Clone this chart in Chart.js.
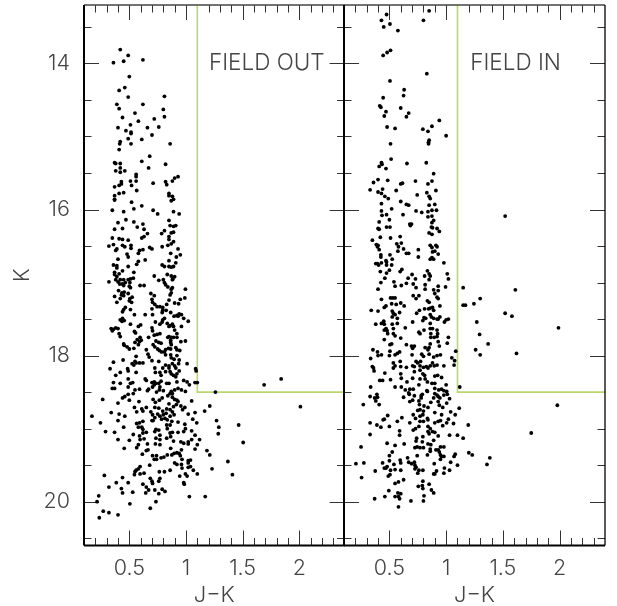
<!DOCTYPE html>
<html><head><meta charset="utf-8">
<style>html,body{margin:0;padding:0;background:#fff;overflow:hidden}
canvas{position:absolute;top:0}</style>
<script src="https://cdn.jsdelivr.net/npm/chart.js@4/dist/chart.umd.min.js"></script>
</head><body>
<div style="position:absolute;left:0;top:0;width:345px;height:606px"><canvas id="a"></canvas></div>
<div style="position:absolute;left:340px;top:0;width:277px;height:606px"><canvas id="b"></canvas></div>
<script>
const xMajor=[0.5,1,1.5,2];
const xMinor=[0.2,0.3,0.4,0.6,0.7,0.8,0.9,1.1,1.2,1.3,1.4,1.6,1.7,1.8,1.9,2.1,2.2,2.3];
const yMajor=[14,16,18,20];
const yMinor=[13.5,14.5,15,15.5,16.5,17,17.5,18.5,19,19.5,20.5];
const cutLine=[[1.1,13.2],[1.1,18.5],[2.4,18.5]];
const outPts=[[1.69,18.40],[1.84,18.32],[2.01,18.70],[.42,13.81],[.49,13.89],[.45,13.97],[.36,13.99],[.62,13.95],[.50,14.18],[.46,14.33],[.41,14.37],[.49,14.46],[.81,14.45],[.39,14.56],[.41,14.62],[.62,14.56],[.80,14.63],[.55,14.68],[.81,14.73],[.44,14.74],[.72,14.76],[.58,14.79],[.51,14.84],[.40,14.88],[.66,14.88],[.76,14.87],[.47,14.92],[.515,14.94],[.515,14.96],[.70,14.98],[.49,15.03],[.61,15.04],[.42,15.07],[.415,15.10],[.515,15.10],[.86,15.10],[.41,15.18],[.68,15.27],[.61,15.34],[.37,15.36],[.38,15.37],[.42,15.37],[.82,15.38],[.42,15.43],[.67,15.43],[.38,15.47],[.42,15.49],[.46,15.47],[.56,15.52],[.56,15.55],[.93,15.55],[.90,15.57],[.88,15.61],[.51,15.61],[.56,15.61],[.43,15.62],[.43,15.65],[.41,15.67],[.37,15.69],[.52,15.67],[.71,15.64],[.82,15.62],[.83,15.66],[.565,15.74],[.45,15.77],[.41,15.78],[.37,15.81],[.37,15.86],[.85,15.78],[.85,15.81],[.88,15.82],[.89,15.86],
[.37,15.87],[.52,15.90],[.61,15.95],[.54,15.99],[.87,15.88],[.35,16.01],[.45,16.03],[.71,16.01],[.75,16.06],[.89,16.03],[.94,16.06],[.85,16.15],[.47,16.14],[.54,16.17],[.40,16.18],[.62,16.20],[.57,16.24],[.44,16.26],[.37,16.27],[.63,16.27],[.86,16.22],[.89,16.23],[.91,16.22],[.81,16.29],[.87,16.32],[.89,16.31],[.785,16.33],[.66,16.33],[.63,16.37],[.35,16.39],[.41,16.40],[.44,16.41],[.49,16.42],[.61,16.39],[.85,16.37],[.89,16.44],[.87,16.47],[.85,16.41],[.32,16.50],[.36,16.48],[.44,16.49],[.515,16.49],[.515,16.53],[.46,16.51],[.39,16.54],[.38,16.56],[.79,16.51],[.84,16.49],[.68,16.52],[.70,16.54],[.93,16.54],[.62,16.55],[.59,16.56],[.58,16.60],[.48,16.61],[.865,16.60],[.95,16.62],[.915,16.65],[.49,16.65],[.40,16.68],[.64,16.69],[.85,16.70],[.58,16.71],[.565,16.75],[.91,16.73],[.36,16.76],[.39,16.77],[.39,16.80],[.49,16.78],[.79,16.76],[.81,16.78],[.85,16.78],[.87,16.79],[.89,16.78],[.37,16.86],[.41,16.88],[.44,16.84],[.54,16.86],[.37,16.89],[.39,16.92],[.72,16.91],[.835,16.89],[.87,16.91],[.90,16.92],[.885,16.95],[.51,16.95],[.535,16.94],[.49,16.96],[.32,16.99],[.38,16.96],[.42,16.96],[.45,16.96],[.40,16.99],[.76,16.97],[.80,16.96],[.81,17.00],[.88,16.96],[.415,17.02],[.44,17.02],[.465,17.00],[.505,17.00],[.45,17.04],[.50,17.05],[.51,17.07],[.595,17.04],[.63,17.04],[.82,17.03],[.84,17.06],[.88,17.07],[.87,17.09],[.995,17.09],[.405,17.11],[.435,17.14],[.455,17.13],[.49,17.15],[.43,17.17],[.45,17.18],[.37,17.19],[.42,17.22],[.505,17.22],[.525,17.20],[.69,17.15],[.72,17.18],[.87,17.14],[.86,17.17],[.99,17.21],[.95,17.23],[.70,17.23],[.705,17.27],[.50,17.25],[.39,17.27],[.52,17.27],[.85,17.24],[.90,17.28],[.935,17.29],[.725,17.30],[.745,17.33],[.77,17.33],[.83,17.30],[.795,17.34],[.70,17.36],[.465,17.34],[.45,17.37],[.44,17.40],[.51,17.37],[.795,17.38],[.825,17.38],[.79,17.41],[.545,17.44],[.64,17.44],[.705,17.44],[.865,17.41],[.895,17.46],[.92,17.45],[.94,17.43],[.96,17.44],[.98,17.49],[1.02,17.53],[.93,17.46],[.81,17.49],[.795,17.51],[.44,17.49],[.42,17.51],[.455,17.52],[.435,17.53],[.79,17.54],[.77,17.57],[.73,17.54],[.88,17.57],[.86,17.59],[.835,17.56],[.51,17.57],[.60,17.58],[.58,17.60],[.96,17.60],[.85,17.60],[.89,17.60],[.34,17.63],[.36,17.64],[.38,17.62],[.40,17.63],[.35,17.66],[.70,17.62],[.705,17.66],[.90,17.65],[.545,17.67],[.555,17.69],[.41,17.70],[.42,17.74],[.77,17.70],[.745,17.71],[.72,17.72],[.92,17.70],[.85,17.74],[.87,17.75],[.89,17.75],[.84,17.75],[.92,17.75],[.67,17.75],[.595,17.75],[.57,17.78],[.605,17.79],[.55,17.82],[.59,17.81],[.735,17.80],[.76,17.82],[.78,17.83],[.865,17.79],[.865,17.82],[.87,17.85],[.45,17.84],[.455,17.86],[.48,17.88],[.50,17.91],[.54,17.90],[.58,17.85],[.955,17.81],[.995,17.80],[.71,17.85],[.725,17.88],[.75,17.91],[.765,17.93],[.785,17.95],[.65,17.92],[.91,17.89],[.92,17.92],[.865,17.91],[.845,17.90],[.82,17.92],[.81,17.95],[.665,17.98],[.675,18.02],[.56,18.01],[.82,17.99],[.865,17.99],[.945,17.93],[.92,18.00],[.895,18.05],[.87,18.03],[.70,18.07],[.76,18.08],[.445,18.06],[.36,18.09],[.525,18.11],[.55,18.08],[.56,18.10],[.59,18.10],[.62,18.10],[.54,18.13],[1.01,18.11],[.94,18.06],[.935,18.11],[.88,18.11],[.90,18.14],[.85,18.14],[.82,18.13],[.725,18.17],[.795,18.17],[.33,18.18],[.485,18.18],[1.085,18.18],[.85,18.17],[.91,18.17],
[.38,18.27],[.42,18.23],[.49,18.21],[.56,18.23],[.73,18.23],[.77,18.23],[.78,18.27],[.82,18.22],[.86,18.22],[.89,18.27],[.92,18.25],[.94,18.21],[.91,18.29],[1.09,18.21],[.87,18.25],[.36,18.37],[.42,18.38],[.49,18.32],[.51,18.38],[.53,18.37],[.64,18.32],[.65,18.34],[.70,18.37],[.72,18.36],[.735,18.38],[.76,18.38],[.78,18.35],[.83,18.38],[.85,18.38],[.92,18.36],[.98,18.34],[1.01,18.36],[1.03,18.40],[1.08,18.37],[1.10,18.37],[.35,18.45],[.37,18.45],[.49,18.43],[.55,18.47],[.59,18.46],[.66,18.48],[.67,18.46],[.705,18.43],[.72,18.40],[.77,18.43],[.765,18.47],[.74,18.50],[.80,18.48],[.96,18.47],[.93,18.45],[.90,18.47],[.995,18.49],[.87,18.49],[.86,18.52],[.88,18.52],[1.26,18.50],[.265,18.60],[.44,18.58],[.46,18.56],[.49,18.53],[.535,18.52],[.50,18.61],[.40,18.65],[.585,18.63],[.71,18.60],[.73,18.64],[.765,18.61],[.79,18.58],[.84,18.55],[.88,18.57],[.90,18.60],[.92,18.61],[.93,18.63],[.85,18.66],[1.05,18.62],[1.21,18.69],[.915,18.67],[.89,18.70],[.34,18.78],[.41,18.80],[.46,18.83],[.17,18.83],[.245,18.92],[.40,18.89],[.545,18.71],[.61,18.73],[.62,18.76],[.565,18.77],[.65,18.71],[.725,18.71],[.76,18.72],[.69,18.77],[.705,18.81],[.725,18.85],[.795,18.76],[.83,18.73],[.86,18.74],[.88,18.77],[.955,18.69],[.99,18.71],[.97,18.74],[1.165,18.76],[1.08,18.78],[1.02,18.80],[.895,18.81],[.86,18.83],[.825,18.79],[.80,18.81],[.77,18.83],[.75,18.80],[.785,18.87],[.815,18.86],[.835,18.88],[.875,18.90],[.86,18.95],[.83,18.95],[.93,18.91],[1.06,18.87],[1.095,18.92],[1.27,18.89],[.99,18.94],[.29,19.04],[.37,19.05],[.45,18.98],[.565,18.93],[.59,18.92],[.62,18.90],[.58,18.98],[.61,18.98],[.62,19.01],[.535,19.08],[.59,19.10],[.62,19.06],[.65,19.05],[.70,18.89],[.71,18.89],[.735,19.01],[.76,19.02],[.77,19.09],[.725,19.04],[.835,19.00],[.86,19.06],[.83,19.13],[.88,19.05],[.93,19.05],[.995,19.00],[.98,19.04],[1.05,19.03],[1.08,19.09],[1.29,18.98],[1.285,19.07],[1.465,18.95],[.40,19.15],[.50,19.16],[.455,19.27],[.565,19.26],[.595,19.15],[.63,19.14],[.66,19.21],[.735,19.13],[.77,19.15],[.73,19.21],[.77,19.22],[.865,19.11],[.89,19.17],[.955,19.18],[.98,19.20],[1.02,19.18],[1.05,19.15],[1.12,19.15],[1.02,19.21],[1.08,19.28],[1.10,19.22],[1.505,19.19],[.58,19.22],[.865,19.27],[.615,19.35],[.65,19.30],[.665,19.29],[.705,19.37],[.72,19.42],[.74,19.37],[.74,19.42],[.78,19.40],[.805,19.39],[.835,19.36],[.875,19.36],[.895,19.34],[.92,19.33],[.94,19.34],[.96,19.29],[.95,19.37],[.965,19.42],[1.02,19.44],[1.04,19.43],[1.185,19.30],[1.21,19.36],[1.37,19.45],[1.02,19.47],[.90,19.47],[.92,19.49],[.96,19.49],[.965,19.54],[1.02,19.53],[1.04,19.52],[.68,19.50],[.595,19.52],[.58,19.55],[.56,19.57],[.55,19.59],[.545,19.63],[.595,19.62],[.63,19.61],[.765,19.59],[.81,19.59],[.86,19.57],[1.065,19.57],[1.10,19.62],[1.23,19.55],[1.41,19.63],[.945,19.65],[.995,19.62],[1.01,19.65],[.28,19.64],[.44,19.67],[.685,19.68],[.77,19.68],[.76,19.72],[.70,19.72],[.705,19.75],[.62,19.76],[.49,19.74],[.385,19.74],[.32,19.80],[.43,19.82],[.44,19.88],[.53,19.87],[.65,19.80],[.67,19.84],[.645,19.88],[.725,19.84],[.79,19.83],[.815,19.86],[.76,19.89],[.98,19.74],[.985,19.76],[1.03,19.93],[1.17,19.93],[.23,19.92],[.215,20.00],[.505,20.03],[.735,20.00],[.685,20.09],[.27,20.13],[.32,20.15],[.40,20.18],[.235,20.22]];
const inPts=[[1.52,16.09],[1.61,17.10],[1.52,17.42],[1.58,17.46],[1.62,17.97],[1.99,17.62],[1.98,18.68],[1.75,19.06],[.475,13.33],[.85,13.28],[.43,13.41],[.80,13.41],[.505,13.46],[.45,13.50],[.575,13.55],[.51,13.82],[.48,13.85],[.445,13.89],[.83,14.14],[.505,14.24],[.63,14.36],[.625,14.44],[.445,14.47],[.415,14.58],[.425,14.60],[.60,14.61],[.47,14.66],[.67,14.68],[.455,14.72],[.65,14.73],[.94,14.78],[.875,14.86],[.48,14.87],[.55,14.89],[.795,14.90],[.84,14.93],[1.0,14.99],[.85,15.05],[.845,15.08],[.845,15.10],[.51,15.10],[.515,15.31],[.43,15.36],[.435,15.38],[.41,15.41],[.47,15.44],[.655,15.37],[.825,15.36],[.89,15.51],[.40,15.59],[.485,15.60],[.36,15.63],[.60,15.65],[.615,15.64],[.73,15.61],[.875,15.61],[.84,15.65],[.33,15.73],[.44,15.72],[.56,15.74],[.40,15.76],[.43,15.78],[.46,15.82],[.49,15.85],[.745,15.80],[.83,15.77],[.85,15.82],[.86,15.85],[.91,15.74],
[.43,15.92],[.60,15.89],[.65,15.93],[.67,15.94],[.85,15.94],[.90,15.93],[.52,15.99],[.43,16.02],[.435,16.08],[.475,16.07],[.735,16.02],[.785,16.04],[.84,16.03],[.875,16.01],[.915,16.01],[.62,16.07],[.84,16.10],[.875,16.09],[.89,16.15],[.50,16.14],[.41,16.17],[.875,16.18],[.40,16.26],[.41,16.27],[.475,16.24],[.505,16.24],[.68,16.20],[.695,16.20],[.685,16.22],[.87,16.24],[.88,16.25],[.92,16.26],[.94,16.30],[.85,16.32],[.875,16.34],[.42,16.38],[.35,16.42],[.51,16.39],[.595,16.37],[.385,16.48],[.40,16.49],[.395,16.51],[.41,16.55],[.565,16.47],[.605,16.46],[.58,16.51],[.625,16.54],[.575,16.57],[.755,16.55],[.86,16.49],[.875,16.52],[.91,16.49],[.92,16.51],[.88,16.58],[.90,16.57],[.65,16.60],[.67,16.60],[.505,16.62],[.525,16.68],[.425,16.62],[.425,16.65],[.47,16.70],[.475,16.72],[.755,16.65],[.93,16.61],[.875,16.66],[.86,16.68],[.89,16.68],[.38,16.74],[.395,16.74],[.405,16.76],[.43,16.73],[.475,16.76],[.52,16.76],[.98,16.73],[.42,16.85],[.50,16.83],[.61,16.82],[.595,16.85],[.475,16.87],[.835,16.84],[.85,16.88],[.81,16.91],[.86,16.91],[.70,16.89],[1.01,16.88],[.665,16.94],[.73,16.95],[.46,16.94],[1.02,16.95],[.85,16.96],[.425,17.00],[.54,16.99],[.55,17.05],[.605,17.04],[.65,17.01],[.71,17.02],[.735,17.07],[.815,17.03],[.815,17.09],[.995,17.06],[.93,17.05],[1.15,17.07],[.40,17.09],[.89,17.10],[.93,17.11],[.90,17.15],[.71,17.18],[.735,17.22],[.76,17.18],[.92,17.20],[.93,17.22],[.43,17.23],[.51,17.21],[.53,17.21],[.55,17.21],[.835,17.25],[.85,17.27],[1.30,17.22],[.52,17.29],[.56,17.30],[.60,17.28],[.63,17.32],[.47,17.32],[.455,17.34],[.34,17.38],[.40,17.39],[.525,17.39],[.945,17.32],[.86,17.35],[.88,17.34],[.845,17.36],[.81,17.36],[.89,17.38],[1.17,17.31],[1.15,17.31],[1.245,17.29],[.765,17.38],[.74,17.42],[.535,17.42],[.59,17.41],[.55,17.44],[.525,17.47],[.57,17.49],[.805,17.48],[.82,17.49],[.86,17.44],[.87,17.47],[.945,17.47],[.93,17.50],[1.02,17.50],[1.0,17.51],[.985,17.54],[.92,17.50],[.89,17.49],[1.27,17.54],[.45,17.53],[.43,17.56],[.38,17.57],[.455,17.57],[.525,17.57],[.57,17.56],[.705,17.54],[.795,17.52],[.86,17.56],[.64,17.62],[.47,17.63],[.455,17.65],[.48,17.66],[.485,17.70],[.535,17.63],[.535,17.70],[.76,17.68],[.77,17.70],[.805,17.65],[.86,17.63],[.88,17.63],[.92,17.65],[.925,17.70],[.865,17.70],[1.295,17.71],[.55,17.73],[.60,17.76],[.455,17.78],[.865,17.75],[.895,17.75],[.92,17.74],[1.02,17.75],[1.01,17.83],[.52,17.84],[.505,17.85],[.65,17.85],[.695,17.87],[.72,17.87],[.705,17.90],[.93,17.81],[.94,17.87],[1.37,17.84],[.86,17.84],[.85,17.89],[.815,17.89],[.84,17.92],[1.26,17.92],[.355,17.92],[.395,17.95],[.43,17.99],[.40,18.0],[.505,17.94],[.50,18.0],[.55,17.99],[.59,17.95],[.57,17.97],[.70,17.99],[.785,17.98],[.80,18.01],[1.085,17.94],[1.30,17.99],[.85,17.98],[.92,18.0],[.95,17.99],[.89,18.02],[.335,18.04],[1.05,18.03],[1.075,18.07],[1.07,18.13],[.735,18.08],[.75,18.10],[.775,18.08],[.535,18.10],[.595,18.08],[.55,18.14],[.35,18.15],[.60,18.15],[.65,18.16],[.705,18.14],[.72,18.15],[.77,18.14],[.80,18.16],[.825,18.15],[.86,18.14],[.88,18.10],[.895,18.14],[.92,18.13],[.98,18.14],[.535,18.17],[.36,18.17],[.84,18.17],
[.365,18.21],[.46,18.24],[.60,18.25],[.72,18.22],[.77,18.20],[.795,18.25],[.81,18.27],[.90,18.28],[.925,18.27],[.96,18.30],[.415,18.34],[.44,18.34],[.51,18.33],[.605,18.31],[.705,18.31],[.77,18.32],[.815,18.32],[.835,18.36],[.875,18.38],[.90,18.38],[.655,18.36],[.76,18.40],[1.0,18.40],[.335,18.43],[.55,18.43],[.605,18.43],[1.12,18.43],[.64,18.47],[.68,18.46],[.71,18.46],[.835,18.49],[.67,18.51],[.675,18.53],[.79,18.53],[.78,18.55],[.83,18.48],[.90,18.45],[.935,18.47],[.96,18.46],[.98,18.48],[1.005,18.49],[.90,18.52],[.92,18.54],[.93,18.56],[.98,18.54],[1.01,18.53],[1.03,18.59],[.39,18.53],[.33,18.56],[.395,18.57],[.37,18.58],[.38,18.62],[.625,18.57],[.72,18.55],[.705,18.61],[.68,18.63],[.78,18.58],[.945,18.58],[.89,18.58],[.93,18.63],[.41,18.67],[.27,18.67],[.76,18.62],[.765,18.67],[.805,18.69],[.84,18.71],[.865,18.64],[.94,18.68],[1.005,18.65],[.97,18.71],[.77,18.74],[.75,18.75],[.80,18.76],[.90,18.78],[1.04,18.77],[1.115,18.72],[.795,18.81],[.77,18.83],[.485,18.82],[.455,18.87],[.445,18.88],[.61,18.85],[.71,18.81],[.73,18.86],[.835,18.86],[.84,18.88],[.96,18.81],[1.08,18.81],[1.02,18.87],[.95,18.89],[.93,18.90],[.90,18.92],[.80,18.90],[.77,18.90],[.57,18.90],[.68,18.92],[.33,18.92],[.39,18.95],[.425,18.98],[.50,18.97],[1.005,18.92],[1.065,18.93],[.97,18.96],[1.195,18.95],[.71,19.02],[.73,19.0],[.76,18.97],[.84,18.97],[.86,19.0],[.88,19.04],[.84,19.04],[.90,19.05],[.59,19.03],[.59,19.09],[.33,19.08],[.85,19.07],[1.03,19.09],[1.10,19.09],[1.15,19.13],[.93,19.10],[.74,19.13],[.795,19.11],[.89,19.16],[.735,19.17],[.79,19.18],[.84,19.21],[.865,19.22],[.48,19.20],[.55,19.23],[.63,19.21],[.25,19.25],[.725,19.26],[.745,19.25],[.77,19.26],[.80,19.26],[.86,19.28],[.86,19.31],[.91,19.29],[.95,19.25],[.98,19.25],[.93,19.29],[.94,19.32],[.95,19.36],[.96,19.38],[.98,19.38],[.525,19.32],[.50,19.37],[.745,19.37],[.835,19.36],[.66,19.40],[1.08,19.35],[1.07,19.38],[1.20,19.33],[1.23,19.36],[1.385,19.40],[1.04,19.46],[.205,19.48],[.275,19.47],[.44,19.47],[.50,19.44],[.54,19.49],[.595,19.43],[.60,19.47],[.67,19.46],[.695,19.48],[.72,19.46],[.725,19.50],[.735,19.53],[.895,19.48],[.95,19.42],[1.36,19.49],[1.10,19.50],[.48,19.52],[.455,19.54],[.47,19.54],[.51,19.57],[.55,19.56],[.60,19.57],[.375,19.58],[.725,19.55],[.76,19.57],[.795,19.57],[.915,19.58],[.985,19.54],[1.03,19.57],[.505,19.63],[.49,19.65],[.75,19.61],[.89,19.62],[.90,19.62],[.98,19.61],[.255,19.67],[.625,19.70],[.55,19.75],[.58,19.73],[.795,19.72],[.85,19.76],[.755,19.79],[.79,19.78],[.795,19.82],[.87,19.84],[.89,19.88],[.495,19.85],[.575,19.88],[.60,19.89],[.46,19.93],[.55,19.93],[.58,19.93],[.59,19.96],[.37,19.96],[.805,19.92],[.69,19.99],[.80,19.99],[.58,20.07]];
const FONT='"Inter"';
const TXT='#444';
function frame(label,lx,rightW){
 const line=(g,a,bb,cc,d)=>{g.beginPath();g.moveTo(a,bb);g.lineTo(cc,d);g.stroke();};
 return {id:'frame',
 beforeDatasetsDraw(c){
  const g=c.ctx,{left:l,right:r,top:t,bottom:b}=c.chartArea,X=c.scales.x,Y=c.scales.y;
  g.save();g.strokeStyle='#333';g.lineWidth=1;
  for(const [arr,len] of [[xMajor,15],[xMinor,7.5]])for(const v of arr){const p=Math.round(X.getPixelForValue(v))+.5;line(g,p,t,p,t+len);line(g,p,b,p,b-len);}
  for(const [arr,len] of [[yMajor,15],[yMinor,7.5]])for(const v of arr){const p=Math.round(Y.getPixelForValue(v))+.5;line(g,l,p,l+len,p);line(g,r,p,r-len,p);}
  g.restore();
 },
 afterDatasetsDraw(c){
  const g=c.ctx,{left:l,right:r,top:t,bottom:b}=c.chartArea,X=c.scales.x,Y=c.scales.y;
  g.save();
  g.strokeStyle='#444';g.lineWidth=1.5;line(g,l,t,r,t);
  g.strokeStyle='#000';g.lineWidth=2;line(g,l,t,l,b);line(g,l,b,r,b);g.lineWidth=rightW;line(g,r,t,r,b);
  g.fillStyle=TXT;g.font='300 22.5px '+FONT;g.textAlign='left';g.textBaseline='middle';
  g.fillText(label,X.getPixelForValue(lx),Y.getPixelForValue(14));
  g.restore();
 }};
}
function make(id,pts,label,lx,isLeft){
 const f={family:FONT,size:21.5,weight:'300'};
 const zero=s=>{s.paddingTop=0;s.paddingBottom=0;s.paddingLeft=0;s.paddingRight=0;};
 const xs={type:'linear',min:0.1,max:2.4,grid:{display:false},border:{display:false},
  afterBuildTicks:s=>{s.ticks=xMajor.map(v=>({value:v}));},
  afterFit:s=>{s.height=60.5;zero(s);},
  ticks:{autoSkip:false,maxRotation:0,padding:2,color:TXT,font:f,callback:v=>String(v)},
  title:{display:true,text:'J\u2212K',color:TXT,font:{family:FONT,size:22,weight:'300'},padding:{top:0,bottom:-3}}};
 const ys={type:'linear',reverse:true,min:13.2,max:20.6,display:isLeft,grid:{display:false},border:{display:false},
  afterBuildTicks:s=>{s.ticks=yMajor.map(v=>({value:v}));},
  afterFit:s=>{s.width=isLeft?84:0;zero(s);},
  ticks:{padding:6,color:TXT,font:f,callback:v=>String(v)},
  title:{display:true,text:'K',color:TXT,font:{family:FONT,size:21,weight:'300'},padding:{top:10,bottom:0}}};
 return new Chart(document.getElementById(id),{type:'scatter',
  data:{datasets:[
   {data:pts.map(p=>({x:p[0],y:p[1]})),pointRadius:1.9,pointBorderWidth:0,pointBackgroundColor:'#000'},
   {data:cutLine.map(p=>({x:p[0],y:p[1]})),showLine:true,pointRadius:0,borderColor:'#b8d86c',borderWidth:1.6,tension:0}]},
  options:{responsive:true,maintainAspectRatio:false,animation:false,events:[],
   layout:{autoPadding:false,padding:{top:5,left:isLeft?0:4,right:isLeft?0.4:12,bottom:0}},
   plugins:{legend:{display:false},tooltip:{enabled:false},title:{display:false}},
   scales:{x:xs,y:ys}},
  plugins:[frame(label,lx,isLeft?2:1.3)]});
}
make('a',outPts,'FIELD OUT',1.203,true);
make('b',inPts,'FIELD IN',1.212,false);
</script></body></html>
